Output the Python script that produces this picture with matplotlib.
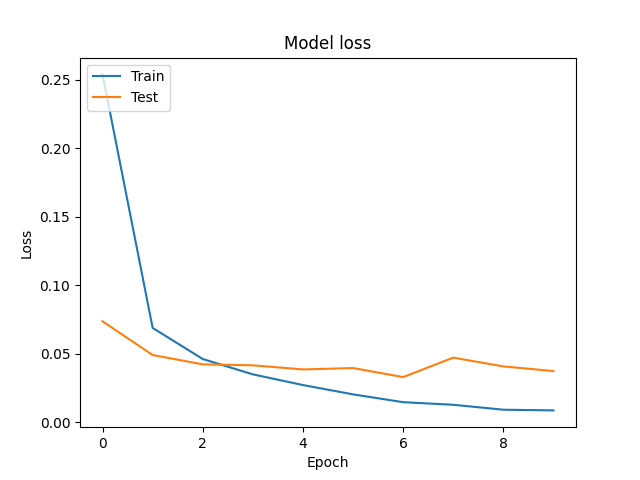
import matplotlib
matplotlib.use("Agg")
import matplotlib.pyplot as plt

# loss por epoca
train_loss = [0.254, 0.0690, 0.0463, 0.0351, 0.0273, 0.0205, 0.0148, 0.0129, 0.0093, 0.0088]
test_loss = [0.0738, 0.0492, 0.0424, 0.0417, 0.0387, 0.0397, 0.0331, 0.0473, 0.0409, 0.0375]

fig = plt.figure(figsize=(6.4, 4.8), dpi=100)
plt.plot(train_loss)
plt.plot(test_loss)
plt.title('Model loss')
plt.ylabel('Loss')
plt.xlabel('Epoch')
plt.legend(['Train', 'Test'], loc='upper left')
plt.savefig('out.png')
